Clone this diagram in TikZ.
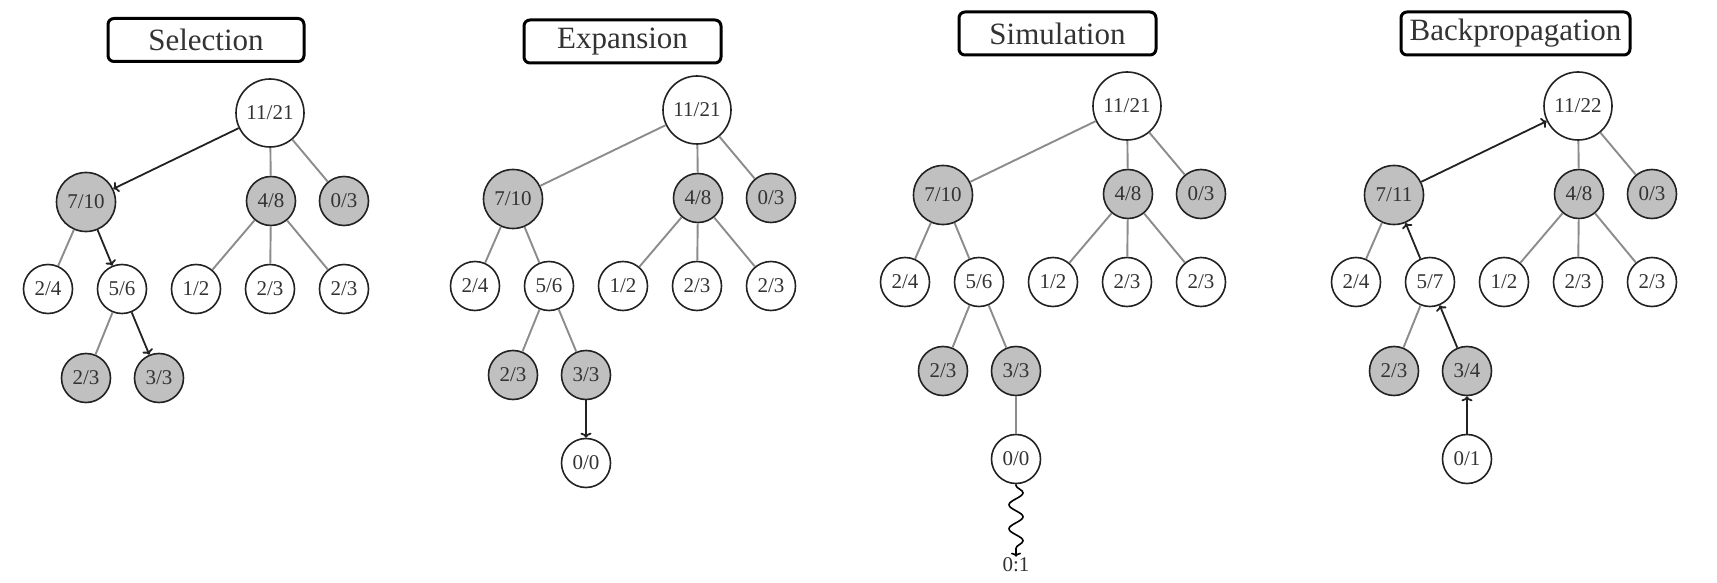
\documentclass[tikz,border=0pt]{standalone}
\usepackage{fontspec}
\setmainfont{Liberation Serif}
\usetikzlibrary{arrows.meta,decorations.pathmorphing}
\definecolor{txt}{HTML}{333333}
\definecolor{bord}{HTML}{222222}
\definecolor{fillg}{HTML}{C0C0C0}
\definecolor{grayline}{HTML}{8C8C8C}
\tikzset{
  wn/.style={circle, draw=bord, line width=1.6pt, fill=white, minimum size=49pt, inner sep=0pt, text=txt, font=\fontsize{21}{23}\selectfont},
  gn/.style={wn, fill=fillg},
  bignode/.style={minimum size=68pt},
  midnode/.style={minimum size=59pt},
  ge/.style={draw=grayline, line width=1.9pt},
  ar/.style={draw=bord, line width=1.8pt, -{To[length=5pt,width=11pt]}},
  titlebox/.style={draw=black, rounded corners=6pt, line width=3pt, minimum height=43pt, inner sep=0pt, text=txt, font=\fontsize{31}{33}\selectfont},
  lab/.style={inner sep=1pt, text=txt, font=\fontsize{21}{23}\selectfont}
}
\begin{document}
\begin{tikzpicture}[x=1pt,y=-1pt]
\useasboundingbox[fill=white] (0,0) rectangle (1717,583);

% ---------- Panel 1: Selection ----------
\node[titlebox, minimum width=196pt] (t1) at (206,40) {Selection};
\begin{scope}[shift={(0,0)}]
\node[wn, bignode] (ar) at (270,113) {11/21};
\node[gn, midnode] (aA) at (86,202) {7/10};
\node[gn] (aB) at (271,201) {4/8};
\node[gn] (aC) at (344,201) {0/3};
\node[wn] (aD) at (48,289) {2/4};
\node[wn] (aE) at (122,289) {5/6};
\node[wn] (aF) at (196,289) {1/2};
\node[wn] (aG) at (270,289) {2/3};
\node[wn] (aH) at (344,289) {2/3};
\node[gn] (aI) at (86,378) {2/3};
\node[gn] (aJ) at (159,378) {3/3};
\end{scope}
\draw[ar] (ar) -- (aA);
\draw[ge] (ar) -- (aB);
\draw[ge] (ar) -- (aC);
\draw[ge] (aA) -- (aD);
\draw[ar] (aA) -- (aE);
\draw[ge] (aB) -- (aF);
\draw[ge] (aB) -- (aG);
\draw[ge] (aB) -- (aH);
\draw[ge] (aE) -- (aI);
\draw[ar] (aE) -- (aJ);

% ---------- Panel 2: Expansion ----------
\node[titlebox, minimum width=197pt] (t2) at (622.5,41.5) {Expansion};
\begin{scope}[shift={(427,-3)}]
\node[wn, bignode] (br) at (270,113) {11/21};
\node[gn, midnode] (bA) at (86,202) {7/10};
\node[gn] (bB) at (271,201) {4/8};
\node[gn] (bC) at (344,201) {0/3};
\node[wn] (bD) at (48,289) {2/4};
\node[wn] (bE) at (122,289) {5/6};
\node[wn] (bF) at (196,289) {1/2};
\node[wn] (bG) at (270,289) {2/3};
\node[wn] (bH) at (344,289) {2/3};
\node[gn] (bI) at (86,378) {2/3};
\node[gn] (bJ) at (159,378) {3/3};
\node[wn] (bK) at (159,466) {0/0};
\end{scope}
\draw[ge] (br) -- (bA);
\draw[ge] (br) -- (bB);
\draw[ge] (br) -- (bC);
\draw[ge] (bA) -- (bD);
\draw[ge] (bA) -- (bE);
\draw[ge] (bB) -- (bF);
\draw[ge] (bB) -- (bG);
\draw[ge] (bB) -- (bH);
\draw[ge] (bE) -- (bI);
\draw[ge] (bE) -- (bJ);
\draw[ar] (bJ) -- (bK);

% ---------- Panel 3: Simulation ----------
\node[titlebox, minimum width=197pt] (t3) at (1057.5,33.5) {Simulation};
\begin{scope}[shift={(857,-7)}]
\node[wn, bignode] (cr) at (270,113) {11/21};
\node[gn, midnode] (cA) at (86,202) {7/10};
\node[gn] (cB) at (271,201) {4/8};
\node[gn] (cC) at (344,201) {0/3};
\node[wn] (cD) at (48,289) {2/4};
\node[wn] (cE) at (122,289) {5/6};
\node[wn] (cF) at (196,289) {1/2};
\node[wn] (cG) at (270,289) {2/3};
\node[wn] (cH) at (344,289) {2/3};
\node[gn] (cI) at (86,378) {2/3};
\node[gn] (cJ) at (159,378) {3/3};
\node[wn] (cK) at (159,466) {0/0};
\node[lab] (cL) at (159,572) {0:1};
\end{scope}
\draw[ge] (cr) -- (cA);
\draw[ge] (cr) -- (cB);
\draw[ge] (cr) -- (cC);
\draw[ge] (cA) -- (cD);
\draw[ge] (cA) -- (cE);
\draw[ge] (cB) -- (cF);
\draw[ge] (cB) -- (cG);
\draw[ge] (cB) -- (cH);
\draw[ge] (cE) -- (cI);
\draw[ge] (cE) -- (cJ);
\draw[ge] (cJ) -- (cK);
\draw[draw=black, line width=1.6pt, -{To[length=4pt,width=10pt]},
      decorate, decoration={snake, amplitude=7pt, segment length=24pt, pre length=1pt, post length=6pt}]
      (cK) -- (cL);

% ---------- Panel 4: Backpropagation ----------
\node[titlebox, minimum width=229pt] (t4) at (1515.5,33.5) {Backpropagation};
\begin{scope}[shift={(1308,-7)}]
\node[wn, bignode] (dr) at (270,113) {11/22};
\node[gn, midnode] (dA) at (86,202) {7/11};
\node[gn] (dB) at (271,201) {4/8};
\node[gn] (dC) at (344,201) {0/3};
\node[wn] (dD) at (48,289) {2/4};
\node[wn] (dE) at (122,289) {5/7};
\node[wn] (dF) at (196,289) {1/2};
\node[wn] (dG) at (270,289) {2/3};
\node[wn] (dH) at (344,289) {2/3};
\node[gn] (dI) at (86,378) {2/3};
\node[gn] (dJ) at (159,378) {3/4};
\node[wn] (dK) at (159,466) {0/1};
\end{scope}
\draw[ar] (dA) -- (dr);
\draw[ge] (dr) -- (dB);
\draw[ge] (dr) -- (dC);
\draw[ge] (dA) -- (dD);
\draw[ar] (dE) -- (dA);
\draw[ge] (dB) -- (dF);
\draw[ge] (dB) -- (dG);
\draw[ge] (dB) -- (dH);
\draw[ge] (dE) -- (dI);
\draw[ar] (dJ) -- (dE);
\draw[ar] (dK) -- (dJ);
\end{tikzpicture}
\end{document}
